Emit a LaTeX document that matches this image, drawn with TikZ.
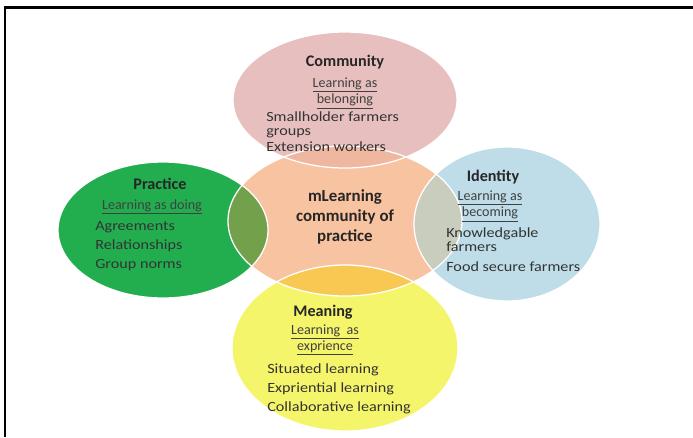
\documentclass[tikz,border=0pt]{standalone}
\usepackage{fontspec}
\setmainfont{Carlito}
\newfontfamily\itemfont[FakeStretch=1.15]{Carlito}
\definecolor{prgreen}{HTML}{22AE4F}
\definecolor{idblue}{HTML}{BEDDE8}
\definecolor{cmpink}{HTML}{E8BFBF}
\definecolor{mnyellow}{HTML}{F5F56C}
\definecolor{coreorange}{HTML}{F8C3A0}
\definecolor{lensolive}{HTML}{73A04B}
\definecolor{lensgrey}{HTML}{C8CDBE}
\definecolor{lenspink}{HTML}{F0B7A0}
\definecolor{lensyellow}{HTML}{F8C852}

\begin{document}
\begin{tikzpicture}[x=0.025cm,y=-0.025cm,
  ring/.style={draw=white,line width=0.9pt},
  title/.style={font=\fontsize{11.5}{14}\selectfont\bfseries,text=black!85},
  sub/.style={font=\fontsize{10}{10.5}\selectfont,align=center,text=black!75},
  item/.style={font=\itemfont\fontsize{10}{12}\selectfont,anchor=base west,text=black!80,inner sep=0pt}]
\useasboundingbox (0,0) rectangle (693,437);
\draw[line width=1.6pt](693,7.5)--(5,7.5)--(5,437);
% the four outer circles
\fill[prgreen](163,230)ellipse(105 and 68);
\fill[idblue](507,224)ellipse(93 and 77);
\fill[cmpink](345,100)ellipse(112 and 68);
\fill[mnyellow](345,348)ellipse(113 and 83);
% centre and its overlaps
\fill[coreorange](345,221)ellipse(117 and 75);
\begin{scope}
  \clip(345,221)ellipse(117 and 75);
  \fill[lensolive](163,230)ellipse(105 and 68);
  \fill[lensgrey](507,224)ellipse(93 and 77);
  \fill[lenspink](345,100)ellipse(112 and 68);
  \fill[lensyellow](345,348)ellipse(113 and 83);
\end{scope}
\draw[ring](163,230)ellipse(105 and 68);
\draw[ring](507,224)ellipse(93 and 77);
\draw[ring](345,100)ellipse(112 and 68);
\draw[ring](345,348)ellipse(113 and 83);
\draw[ring](345,221)ellipse(117 and 75);
% texts
\node[title,align=center,font=\fontsize{12}{14.2}\selectfont\bfseries](core)at(345,217){mLearning\\community of\\practice};
\node[title](comm)at(345,62){Community};
\node[sub](commsub)at(345,93){\underline{Learning as}\\\underline{belonging}};
\node[item](c1)at(266,121){Smallholder farmers};
\node[item](c2)at(266,135){groups};
\node[item](c3)at(266,151){Extension workers};
\node[title](prac)at(160,184){Practice};
\node[sub](pracsub)at(152,207){\underline{Learning as doing}};
\node[item](p1)at(95,230){Agreements};
\node[item](p2)at(95,249){Relationships};
\node[item](p3)at(95,268){Group norms};
\node[title](iden)at(493,177){Identity};
\node[sub](idensub)at(490,206){\underline{Learning as}\\\underline{becoming}};
\node[item](i1)at(446,237){Knowledgable};
\node[item](i2)at(446,251){farmers};
\node[item](i3)at(446,271){Food secure farmers};
\node[title](mean)at(323,312){Meaning};
\node[sub,font=\fontsize{10}{11.4}\selectfont](meansub)at(325,340){\underline{Learning\ \ as}\\\underline{exprience}};
\node[item](m1)at(267,373){Situated learning};
\node[item](m2)at(267,392){Expriential learning};
\node[item](m3)at(267,411){Collaborative learning};
\end{tikzpicture}
\end{document}
